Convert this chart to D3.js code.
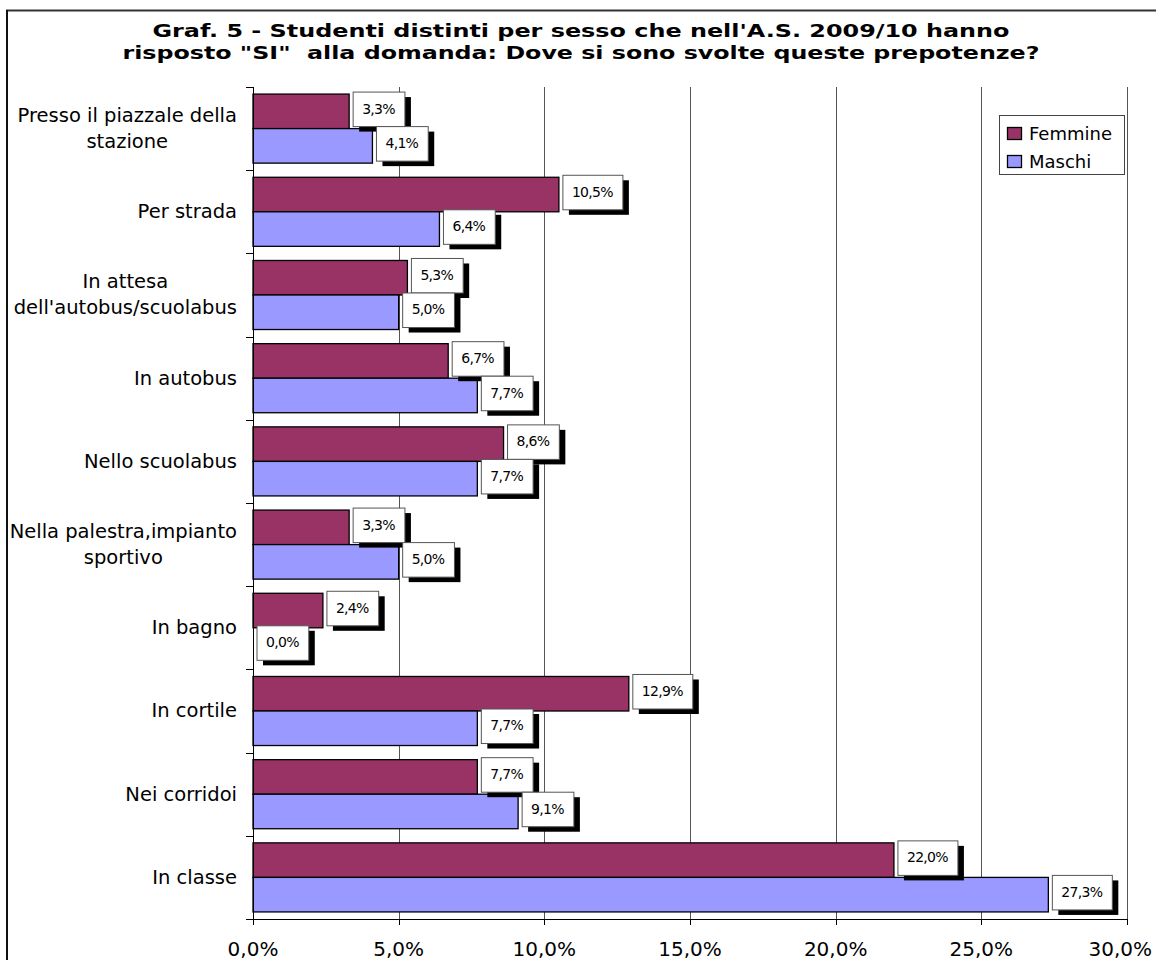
<!DOCTYPE html>
<html>
<head>
<meta charset="utf-8">
<script src="https://cdn.jsdelivr.net/npm/d3@7"></script>
<style>
  html, body { margin: 0; padding: 0; background: #fff; }
  svg { display: block; }
  text { font-family: "DejaVu Sans", Verdana, sans-serif; fill: #000; }
</style>
</head>
<body>
<svg id="chart" width="1156" height="960"></svg>
<script>
// Places where the bullying happened (top to bottom); "\n" marks a line break
const categories = [
  "Presso il piazzale della\nstazione",
  "Per strada",
  "In attesa\ndell'autobus/scuolabus",
  "In autobus",
  "Nello scuolabus",
  "Nella palestra,impianto\nsportivo",
  "In bagno",
  "In cortile",
  "Nei corridoi",
  "In classe"
];
const seriesNames = ["Femmine", "Maschi"];
const femmine = [3.3, 10.5, 5.3, 6.7, 8.6, 3.3, 2.4, 12.9, 7.7, 22.0];
const maschi  = [4.1, 6.4, 5.0, 7.7, 7.7, 5.0, 0.0, 7.7, 9.1, 27.3];
const xTicks = [0, 5, 10, 15, 20, 25, 30];
const titleLines = [
  "Graf. 5 - Studenti distinti per sesso che nell'A.S. 2009/10 hanno",
  "risposto \"SI\"  alla domanda: Dove si sono svolte queste prepotenze?"
];
const colors = { Femmine: "#993366", Maschi: "#9999FF" };

const svg = d3.select("#chart");
const it = d3.formatLocale({ decimal: ",", thousands: ".", grouping: [3], currency: ["€", ""] });
const fmt = it.format(".1f");

// outer chart frame (top and left edges)
svg.append("line").attr("x1", 6).attr("x2", 1156).attr("y1", 10.5).attr("y2", 10.5)
  .attr("stroke", "#333").attr("stroke-width", 2);
svg.append("line").attr("x1", 7).attr("x2", 7).attr("y1", 10).attr("y2", 960)
  .attr("stroke", "#111").attr("stroke-width", 2);

// title (wide bold face, stretched to its line widths)
const titleWidths = [857, 917];
svg.append("g").selectAll("text").data(titleLines).join("text")
  .attr("x", 581).attr("y", (d, i) => 37 + i * 21.5)
  .attr("text-anchor", "middle")
  .attr("font-weight", "bold").attr("font-size", 18)
  .attr("textLength", (d, i) => titleWidths[i])
  .attr("lengthAdjust", "spacingAndGlyphs")
  .style("white-space", "pre")
  .text(d => d);

const plot = { left: 253, right: 1127, top: 87, bottom: 919 };
const x = d3.scaleLinear().domain([0, 30]).range([plot.left, plot.right]);
const y0 = d3.scaleBand().domain(categories).range([plot.top, plot.bottom])
  .paddingInner(0.17).paddingOuter(0.085);
const y1 = d3.scaleBand().domain(seriesNames).range([0, y0.bandwidth()]);

// vertical gridlines
svg.append("g").selectAll("line").data(xTicks.filter(t => t > 0)).join("line")
  .attr("x1", d => Math.round(x(d)) + 0.5).attr("x2", d => Math.round(x(d)) + 0.5)
  .attr("y1", plot.top).attr("y2", plot.bottom)
  .attr("stroke", "#555").attr("stroke-width", 1);

// bars
const rows = categories.map((c, i) => ({ cat: c, Femmine: femmine[i], Maschi: maschi[i] }));
const barData = [];
rows.forEach(r => seriesNames.forEach(s => barData.push({ cat: r.cat, series: s, value: r[s] })));

svg.append("g").selectAll("rect").data(barData.filter(d => d.value > 0)).join("rect")
  .attr("x", x(0))
  .attr("y", d => y0(d.cat) + y1(d.series))
  .attr("width", d => x(d.value) - x(0))
  .attr("height", y1.bandwidth())
  .attr("fill", d => colors[d.series])
  .attr("stroke", "#000").attr("stroke-width", 1.3);

// y axis
const yAxisG = svg.append("g");
yAxisG.append("line").attr("x1", plot.left + 0.5).attr("x2", plot.left + 0.5)
  .attr("y1", plot.top).attr("y2", plot.bottom).attr("stroke", "#000");
const bounds = d3.range(categories.length + 1).map(i => plot.top + i * y0.step());
yAxisG.selectAll("line.tick").data(bounds).join("line").attr("class", "tick")
  .attr("x1", plot.left - 7).attr("x2", plot.left)
  .attr("y1", d => Math.round(d) + 0.5).attr("y2", d => Math.round(d) + 0.5)
  .attr("stroke", "#000");

// category labels: block right-aligned, lines centred within it
const labelRight = 237, lineH = 26;
categories.forEach(c => {
  const lines = c.split("\n");
  const cy = y0(c) + y0.bandwidth() / 2;
  const g = svg.append("g");
  const texts = g.selectAll("text").data(lines).join("text")
    .attr("font-size", 19.5)
    .attr("y", (d, i) => cy + (i - (lines.length - 1) / 2) * lineH)
    .attr("dy", "0.33em")
    .text(d => d);
  const w = d3.max(texts.nodes(), n => n.getComputedTextLength());
  texts.attr("x", labelRight - w / 2).attr("text-anchor", "middle");
});

// x axis
const xAxisG = svg.append("g");
xAxisG.append("line").attr("x1", plot.left).attr("x2", plot.right)
  .attr("y1", plot.bottom + 0.5).attr("y2", plot.bottom + 0.5).attr("stroke", "#000");
xAxisG.selectAll("line.tick").data(xTicks).join("line").attr("class", "tick")
  .attr("x1", d => Math.round(x(d)) + 0.5).attr("x2", d => Math.round(x(d)) + 0.5)
  .attr("y1", plot.bottom).attr("y2", plot.bottom + 6).attr("stroke", "#000");
const tickLabels = xAxisG.selectAll("text").data(xTicks).join("text")
  .attr("x", d => x(d)).attr("y", 956)
  .attr("text-anchor", "middle").attr("font-size", 20)
  .text(d => fmt(d) + "%");
// keep the last tick label inside the page
tickLabels.each(function(d) {
  const w = this.getComputedTextLength();
  if (x(d) + w / 2 > 1152) d3.select(this).attr("x", 1152 - w / 2);
});

// value labels: white boxes with a black drop shadow
const lab = svg.append("g");
seriesNames.forEach(s => {
  barData.filter(d => d.series === s).forEach(d => {
    const by = y0(d.cat) + y1(d.series);
    const g = lab.append("g");
    const shadow = g.append("rect").attr("fill", "#000");
    const box = g.append("rect").attr("fill", "#fff").attr("stroke", "#555").attr("stroke-width", 1);
    const t = g.append("text").attr("font-size", 14).attr("letter-spacing", -0.7)
      .text(fmt(d.value) + "%");
    const tw = t.node().getComputedTextLength();
    const bx = x(d.value) + 4, bw = tw + 19, bh = y1.bandwidth(), byy = by - 2;
    shadow.attr("x", bx + 6).attr("y", byy + 5).attr("width", bw).attr("height", bh);
    box.attr("x", bx).attr("y", byy).attr("width", bw).attr("height", bh);
    t.attr("x", bx + 9).attr("y", byy + bh / 2).attr("dy", "0.3em");
  });
});

// legend
const lg = svg.append("g").attr("transform", "translate(999,115)");
lg.append("rect").attr("x", 0.5).attr("y", 0.5).attr("width", 125).attr("height", 59)
  .attr("fill", "#fff").attr("stroke", "#444");
seriesNames.forEach((s, i) => {
  lg.append("rect").attr("x", 8.5).attr("y", 12.5 + i * 28).attr("width", 14).attr("height", 12)
    .attr("fill", colors[s]).attr("stroke", "#000").attr("stroke-width", 1.3);
  lg.append("text").attr("x", 30).attr("y", 18.5 + i * 28).attr("dy", "0.35em")
    .attr("font-size", 18).text(s);
});
</script>
</body>
</html>
